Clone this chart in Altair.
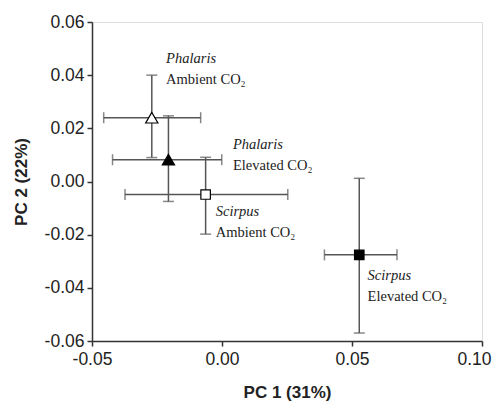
import altair as alt
import pandas as pd

genus = ["Phalaris", "Phalaris", "Scirpus", "Scirpus"]
treatment = ["Ambient CO₂", "Elevated CO₂", "Ambient CO₂", "Elevated CO₂"]
pc1 = [-0.027, -0.0206, -0.0063, 0.0528]
pc2 = [0.024, 0.0082, -0.0049, -0.0276]
pc1_lo = [-0.0455, -0.0421, -0.0373, 0.0394]
pc1_hi = [-0.0082, -0.0001, 0.0253, 0.0673]
pc2_lo = [0.009, -0.0075, -0.0198, -0.057]
pc2_hi = [0.040, 0.0247, 0.0091, 0.0012]
shapes = ["triangle-up", "triangle-up", "square", "square"]
fills = ["white", "black", "white", "black"]
label_x = [-0.0215, 0.0042, -0.0024, 0.056]
label_y = [0.0462, 0.0139, -0.0113, -0.0357]

df = pd.DataFrame({
    "genus": genus, "treatment": treatment, "pc1": pc1, "pc2": pc2,
    "xlo": pc1_lo, "xhi": pc1_hi, "ylo": pc2_lo, "yhi": pc2_hi,
    "shape": shapes, "fill": fills, "lx": label_x, "ly": label_y,
})

xs = alt.Scale(domain=[-0.05, 0.10], nice=False, zero=False)
ys = alt.Scale(domain=[-0.06, 0.06], nice=False, zero=False)

lab_expr = "replace(format(datum.value, '.2f'), '\u2212', '-')"

xax = alt.Axis(values=[-0.05, 0.0, 0.05, 0.10], labelExpr=lab_expr, title="PC 1 (31%)",
               grid=False, tickSize=5, labelFontSize=17.5, titleFontSize=17,
               labelFont="Liberation Sans", titleFont="Liberation Sans",
               titleFontWeight="bold", labelColor="#222", titleColor="#222",
               domainColor="#333", tickColor="#333", domainWidth=1.5, tickWidth=1.5,
               labelPadding=4, titlePadding=17, labelFlush=False, labelOverlap=False,
               labelBound=False,
               labelOffset={"condition": {"test": "datum.value > 0.09", "value": -8}, "value": 0})
yax = alt.Axis(values=[-0.06, -0.04, -0.02, 0.0, 0.02, 0.04, 0.06], labelExpr=lab_expr,
               title="PC 2 (22%)", grid=False, tickSize=5, labelFontSize=17.5,
               titleFontSize=17, labelFont="Liberation Sans", titleFont="Liberation Sans",
               titleFontWeight="bold", labelColor="#222", titleColor="#222",
               domainColor="#333", tickColor="#333", domainWidth=1.5, tickWidth=1.5,
               labelPadding=3, titlePadding=14, labelFlush=False, labelOverlap=False)

base = alt.Chart(df)
errcol = "#555"

hbar = base.mark_rule(color=errcol, strokeWidth=1.5).encode(
    x=alt.X("xlo:Q", scale=xs, axis=xax), x2="xhi:Q", y=alt.Y("pc2:Q", scale=ys, axis=yax))
vbar = base.mark_rule(color=errcol, strokeWidth=1.5).encode(
    x=alt.X("pc1:Q", scale=xs), y=alt.Y("ylo:Q", scale=ys), y2="yhi:Q")
capxlo = base.mark_tick(color=errcol, orient="vertical", size=11, thickness=1.5).encode(
    x=alt.X("xlo:Q", scale=xs), y=alt.Y("pc2:Q", scale=ys))
capxhi = base.mark_tick(color=errcol, orient="vertical", size=11, thickness=1.5).encode(
    x=alt.X("xhi:Q", scale=xs), y=alt.Y("pc2:Q", scale=ys))
capylo = base.mark_tick(color=errcol, orient="horizontal", size=11, thickness=1.5).encode(
    x=alt.X("pc1:Q", scale=xs), y=alt.Y("ylo:Q", scale=ys))
capyhi = base.mark_tick(color=errcol, orient="horizontal", size=11, thickness=1.5).encode(
    x=alt.X("pc1:Q", scale=xs), y=alt.Y("yhi:Q", scale=ys))

pts = base.mark_point(filled=True, stroke="black", strokeWidth=1.2, opacity=1).encode(
    x=alt.X("pc1:Q", scale=xs), y=alt.Y("pc2:Q", scale=ys),
    shape=alt.Shape("shape:N", scale=None),
    fill=alt.Fill("fill:N", scale=None),
    size=alt.condition("datum.shape == 'square'", alt.value(90), alt.value(150)),
)

lab1 = base.mark_text(align="left", baseline="middle", font="Liberation Serif",
                      fontSize=14.5, fontStyle="italic", color="#222").encode(
    x=alt.X("lx:Q", scale=xs), y=alt.Y("ly:Q", scale=ys), text="genus:N")
lab2 = base.mark_text(align="left", baseline="middle", font="Liberation Serif",
                      fontSize=14.5, color="#222", dy=21).encode(
    x=alt.X("lx:Q", scale=xs), y=alt.Y("ly:Q", scale=ys), text="treatment:N")

chart = alt.layer(hbar, vbar, capxlo, capxhi, capylo, capyhi, pts, lab1, lab2).properties(
    width=390, height=319,
    padding={"left": 84, "top": 14, "right": 11, "bottom": 61},
    autosize=alt.AutoSizeParams(type="none"),
).configure_view(stroke="#333", strokeWidth=1.5).configure(background="white")

chart.save("out.html", embed_options={"renderer": "svg", "actions": False})
